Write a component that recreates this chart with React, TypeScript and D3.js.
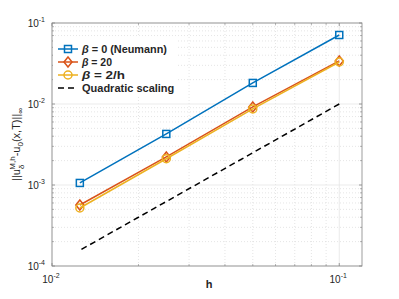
import React from "react";
import * as d3 from "d3";

const hValues = [0.1, 0.05, 0.025, 0.0125];
const neumann = [0.0711, 0.0182, 0.00427, 0.00106];
const beta20 = [0.034, 0.0092, 0.00222, 0.000566];
const betaInvH = [0.033, 0.0087, 0.00211, 0.00052];
const quadratic = [0.01, 0.0025, 0.000625, 0.00015625];
const xTickExps = [-2, -1];
const yTickExps = [-4, -3, -2, -1];

const W = 399;
const H = 299;
const margin = { left: 52, top: 23, right: 37, bottom: 33 };
const font = "'Liberation Sans', Arial, Helvetica, sans-serif";

const series = [
  { name: " = 0 (Neumann)", values: neumann, color: "#0072BD", marker: "square", width: 85 },
  { name: " = 20", values: beta20, color: "#D95319", marker: "diamond", width: 30 },
  { name: " = 2/h", values: betaInvH, color: "#EDB120", marker: "circle", width: 43 },
];

const Marker = ({ type, x, y, color }: { type: string; x: number; y: number; color: string }) => {
  if (type === "square")
    return <rect x={x - 3.5} y={y - 3.5} width={7} height={7} fill="none" stroke={color} strokeWidth={1.5} />;
  if (type === "diamond")
    return (
      <path
        d={`M${x},${y - 5}L${x + 4},${y}L${x},${y + 5}L${x - 4},${y}Z`}
        fill="none"
        stroke={color}
        strokeWidth={1.5}
      />
    );
  return <circle cx={x} cy={y} r={4} fill="none" stroke={color} strokeWidth={1.5} />;
};

const App = () => {
  const x = d3
    .scaleLog()
    .domain([0.01, 0.12])
    .range([margin.left, W - margin.right]);
  const y = d3
    .scaleLog()
    .domain([1e-4, 1e-1])
    .range([H - margin.bottom, margin.top]);

  const [x0, x1] = x.range();
  const [y0, y1] = y.range();

  const line = d3
    .line<number>()
    .x((d, i) => x(hValues[i]))
    .y((d) => y(d));

  const xMinor: number[] = [];
  for (let k = 2; k <= 9; k++) xMinor.push(k * 0.01);
  const yMinor: number[] = [];
  for (const e of [-4, -3, -2]) for (let k = 2; k <= 9; k++) yMinor.push(k * Math.pow(10, e));

  const axisColor = "#868686";
  const tickLen = 3;

  return (
    <svg width={W} height={H} style={{ position: "absolute", left: 0, top: 0 }}>
      <rect x={0} y={0} width={W} height={H} fill="white" />
      {/* minor grid */}
      {xMinor.map((v) => (
        <line key={"xm" + v} x1={x(v)} x2={x(v)} y1={y0} y2={y1} stroke="#d4d4d4" strokeWidth={0.6} strokeDasharray="1,2" />
      ))}
      {yMinor.map((v) => (
        <line key={"ym" + v} x1={x0} x2={x1} y1={y(v)} y2={y(v)} stroke="#d4d4d4" strokeWidth={0.6} strokeDasharray="1,2" />
      ))}
      {/* major grid */}
      {xTickExps.map((e) => (
        <line key={"xg" + e} x1={x(Math.pow(10, e))} x2={x(Math.pow(10, e))} y1={y0} y2={y1} stroke="#e6e6e6" strokeWidth={0.8} />
      ))}
      {yTickExps.map((e) => (
        <line key={"yg" + e} x1={x0} x2={x1} y1={y(Math.pow(10, e))} y2={y(Math.pow(10, e))} stroke="#e6e6e6" strokeWidth={0.8} />
      ))}

      {/* ticks */}
      {xMinor.map((v) => (
        <g key={"xt" + v} stroke={axisColor} strokeWidth={0.6}>
          <line x1={x(v)} x2={x(v)} y1={y0} y2={y0 - 2} />
          <line x1={x(v)} x2={x(v)} y1={y1} y2={y1 + 2} />
        </g>
      ))}
      {yMinor.map((v) => (
        <g key={"yt" + v} stroke={axisColor} strokeWidth={0.6}>
          <line x1={x0} x2={x0 + 2} y1={y(v)} y2={y(v)} />
          <line x1={x1} x2={x1 - 2} y1={y(v)} y2={y(v)} />
        </g>
      ))}
      {xTickExps.map((e) => (
        <g key={"xM" + e} stroke={axisColor} strokeWidth={0.8}>
          <line x1={x(Math.pow(10, e))} x2={x(Math.pow(10, e))} y1={y0} y2={y0 - tickLen} />
          <line x1={x(Math.pow(10, e))} x2={x(Math.pow(10, e))} y1={y1} y2={y1 + tickLen} />
        </g>
      ))}
      {yTickExps.map((e) => (
        <g key={"yM" + e} stroke={axisColor} strokeWidth={0.8}>
          <line x1={x0} x2={x0 + tickLen} y1={y(Math.pow(10, e))} y2={y(Math.pow(10, e))} />
          <line x1={x1} x2={x1 - tickLen} y1={y(Math.pow(10, e))} y2={y(Math.pow(10, e))} />
        </g>
      ))}

      {/* box */}
      <rect x={x0} y={y1} width={x1 - x0} height={y0 - y1} fill="none" stroke={axisColor} strokeWidth={0.8} />

      {/* tick labels */}
      {xTickExps.map((e) => (
        <text key={"xl" + e} x={x(Math.pow(10, e)) - 1} y={y0 + 17} fontFamily={font} fontSize={10} fill="#262626" textAnchor="middle">
          10
          <tspan dy={-5} fontSize={7}>{e}</tspan>
        </text>
      ))}
      {yTickExps.map((e) => (
        <text key={"yl" + e} x={x0 - 7} y={y(Math.pow(10, e)) + 4} fontFamily={font} fontSize={10} fill="#262626" textAnchor="end">
          10
          <tspan dy={-5} fontSize={7}>{e}</tspan>
        </text>
      ))}

      {/* axis labels */}
      <text x={(x0 + x1) / 2 + 2} y={H - 11} fontFamily={font} fontSize={11} fontWeight="bold" fill="#262626" textAnchor="middle">
        h
      </text>
      <text
        transform={`translate(20,${(y0 + y1) / 2}) rotate(-90)`}
        fontFamily={font}
        fontSize={11}
        fill="#262626"
        textAnchor="middle"
      >
        ||u
        <tspan fontSize={8} dy={4}>{"\u03b4"}</tspan>
        <tspan fontSize={8} dx={-5} dy={-9}>M,h</tspan>
        <tspan dy={5}>-u</tspan>
        <tspan fontSize={8} dy={3}>0</tspan>
        <tspan dy={-3}>(x,T)||</tspan>
        <tspan fontSize={8} dy={3}>{"\u221e"}</tspan>
      </text>

      {/* reference line */}
      <path d={line(quadratic) || ""} fill="none" stroke="#000" strokeWidth={1.5} strokeDasharray="6,4" />

      {/* series */}
      {series.map((s) => (
        <g key={s.name}>
          <path d={line(s.values) || ""} fill="none" stroke={s.color} strokeWidth={1.5} />
          {s.values.map((v, i) => (
            <Marker key={i} type={s.marker} x={x(hValues[i])} y={y(v)} color={s.color} />
          ))}
        </g>
      ))}

      {/* legend */}
      <g>
        <rect x={x0 + 1} y={37} width={124} height={60} fill="white" />
        {series.map((s, i) => {
          const ly = 49 + i * 13;
          return (
            <g key={"lg" + i}>
              <line x1={58} x2={78} y1={ly} y2={ly} stroke={s.color} strokeWidth={1.5} />
              <Marker type={s.marker} x={68} y={ly} color={s.color} />
              <text
                x={82}
                y={ly + 4}
                fontFamily={font}
                fontSize={11}
                fontWeight="bold"
                fill="#262626"
                textLength={s.width}
                lengthAdjust="spacingAndGlyphs"
              >
                <tspan fontStyle="italic">{"\u03b2"}</tspan>
                {s.name}
              </text>
            </g>
          );
        })}
        <line x1={58} x2={78} y1={88} y2={88} stroke="#000" strokeWidth={1.5} strokeDasharray="6,4" />
        <text x={82} y={92} fontFamily={font} fontSize={11} fontWeight="bold" fill="#262626">
          Quadratic scaling
        </text>
      </g>
    </svg>
  );
};

export default App;
